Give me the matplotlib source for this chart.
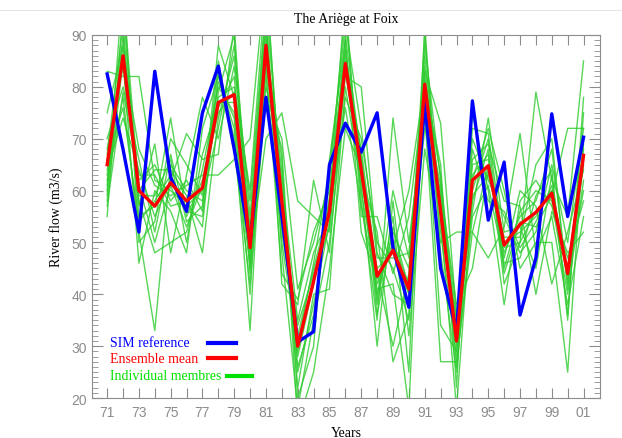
import matplotlib
matplotlib.use("Agg")
import matplotlib.pyplot as plt
from matplotlib.lines import Line2D
import numpy as np

years = np.arange(1971, 2002)

sim_reference = [82.5, 68, 52, 83, 62.5, 56, 75, 84, 68, 50, 78, 55, 30.8, 32.8, 65,
                 73, 67.4, 75, 49, 37.5, 77, 45, 33, 77.3, 54.3, 65.5, 36, 47, 74.8,
                 55, 70.3]

ensemble_mean = [65, 86, 60, 57, 61.5, 58, 60.5, 77, 78.5, 49, 88, 58, 30, 42.5, 56,
                 84.5, 64, 43.5, 48.5, 41, 80.5, 56, 31, 62, 64.8, 49.5, 53.5, 55.8,
                 59.5, 44, 66.8]

# one row per year, one column per ensemble member
members_by_year = [
    [83, 55, 62, 60, 67, 64, 58, 92, 70, 61, 66, 63, 59, 68, 57, 75],
    [82, 95, 78, 88, 92, 74, 85, 98, 80, 90, 76, 86, 100, 84, 79, 88],
    [82, 58, 52, 62, 55, 64, 46, 60, 66, 57, 54, 68, 50, 61, 63, 59],
    [62, 48, 33, 65, 57, 55, 60, 64, 52, 69, 58, 61, 54, 50, 63, 59],
    [60, 50, 65, 58, 74, 62, 56, 64, 67, 48, 63, 59, 70, 61, 57, 66],
    [57, 52, 60, 62, 55, 71, 48, 59, 54, 63, 56, 61, 65, 53, 58, 50],
    [60, 64, 58, 56, 62, 66, 72, 48, 57, 78, 55, 63, 59, 61, 53, 67],
    [76, 80, 72, 85, 78, 67, 82, 74, 88, 70, 79, 63, 81, 75, 83, 77],
    [82, 75, 88, 68, 80, 92, 72, 86, 78, 84, 90, 66, 74, 79, 70, 77],
    [50, 45, 55, 42, 60, 48, 33, 52, 47, 58, 44, 70, 40, 53, 46, 51],
    [90, 86, 95, 78, 100, 84, 88, 92, 70, 96, 82, 102, 87, 93, 80, 85],
    [55, 62, 48, 70, 58, 44, 66, 52, 75, 60, 50, 56, 64, 42, 68, 58],
    [28, 35, 18, 41, 25, 39, 15, 32, 58, 22, 30, 34, 26, 38, 20, 29],
    [42, 48, 35, 50, 38, 52, 25, 45, 55, 40, 46, 44, 36, 62, 30, 43],
    [58, 55, 50, 62, 54, 60, 45, 57, 52, 41, 64, 56, 59, 48, 66, 53],
    [85, 90, 78, 95, 82, 88, 72, 98, 84, 80, 92, 76, 87, 83, 89, 86],
    [62, 66, 70, 58, 80, 60, 64, 55, 68, 61, 72, 57, 65, 63, 52, 67],
    [45, 40, 50, 35, 48, 42, 38, 55, 44, 30, 47, 41, 36, 52, 43, 39],
    [48, 52, 45, 74, 40, 50, 55, 44, 30, 58, 47, 42, 53, 27, 49, 60],
    [40, 45, 35, 50, 38, 42, 25, 55, 44, 32, 48, 18, 41, 36, 60, 47],
    [82, 78, 88, 75, 84, 72, 92, 80, 86, 68, 79, 83, 90, 76, 81, 74],
    [58, 52, 62, 27, 55, 60, 48, 65, 57, 50, 34, 73, 54, 61, 63, 59],
    [30, 28, 35, 27, 32, 38, 25, 22, 33, 52, 29, 36, 18, 31, 26, 34],
    [65, 60, 70, 52, 58, 45, 62, 75, 56, 52, 68, 63, 59, 66, 55, 72],
    [66, 70, 62, 47, 68, 64, 72, 60, 74, 65, 58, 67, 63, 69, 61, 71],
    [50, 45, 55, 53, 42, 48, 60, 38, 52, 47, 56, 44, 51, 58, 46, 49],
    [52, 56, 48, 71, 50, 55, 45, 58, 53, 60, 49, 54, 51, 57, 47, 50],
    [55, 60, 52, 48, 79, 58, 50, 62, 45, 57, 54, 53, 65, 40, 59, 56],
    [60, 58, 65, 55, 62, 68, 50, 57, 63, 42, 61, 59, 70, 56, 64, 60],
    [45, 40, 50, 38, 55, 42, 25, 47, 36, 52, 44, 72, 41, 48, 35, 43],
    [68, 62, 72, 55, 85, 65, 70, 58, 75, 64, 60, 72, 66, 52, 78, 69],
]

tick_labels = [f"{y % 100:02d}" if y % 2 == 1 else "" for y in years]

serif = ["Liberation Serif", "DejaVu Serif"]
gray = "#8c8c8c"

fig = plt.figure(figsize=(6.22, 4.39), dpi=100)
ax = fig.add_axes([0.148, 0.091, 0.817, 0.827])

members = np.array(members_by_year).T
for m in members:
    ax.plot(years, m, color="#2ecc2e", lw=1.0, alpha=0.8)
ax.plot(years, sim_reference, color="#0000ff", lw=2.4)
ax.plot(years, ensemble_mean, color="#ff0000", lw=2.4)

ax.set_xlim(1970.05, 2002.05)
ax.set_ylim(20, 90)
ax.set_xticks(years)
ax.set_xticklabels(tick_labels)
ax.set_yticks(np.arange(20, 91, 10))
ax.set_yticks(np.arange(20, 91, 1), minor=True)
ax.tick_params(axis="both", which="both", direction="in", top=True, right=True,
               colors=gray, labelcolor=gray, labelsize=10)
ax.tick_params(axis="x", which="major", length=7, pad=5)
ax.tick_params(axis="y", which="major", length=8)
ax.tick_params(axis="y", which="minor", length=4)
for lab in ax.get_xticklabels() + ax.get_yticklabels():
    lab.set_family("Liberation Sans")
for s in ax.spines.values():
    s.set_color(gray)

ax.set_title("The Ariège at Foix", family=serif, fontsize=10, pad=9)
ax.set_xlabel("Years", family=serif, fontsize=10, labelpad=5)
ax.set_ylabel("River flow (m3/s)", family=serif, fontsize=10, labelpad=6)

# hand-placed legend
ax.text(0.035, 0.154, "SIM reference", color="#0000ff", family=serif, fontsize=10,
        transform=ax.transAxes, va="center")
ax.text(0.035, 0.110, "Ensemble mean", color="#ff0000", family=serif, fontsize=10,
        transform=ax.transAxes, va="center")
ax.text(0.035, 0.061, "Individual membres", color="#00e000", family=serif, fontsize=10,
        transform=ax.transAxes, va="center")
ax.plot([0.228, 0.283], [0.152, 0.152], color="#0000ff", lw=3, transform=ax.transAxes)
ax.plot([0.228, 0.283], [0.110, 0.110], color="#ff0000", lw=3, transform=ax.transAxes)
ax.plot([0.266, 0.315], [0.061, 0.061], color="#00e000", lw=3, transform=ax.transAxes)

fig.add_artist(Line2D([0, 1], [1 - 11 / 439, 1 - 11 / 439], color="#e6e6e6", lw=0.8))

fig.savefig("out.png", dpi=100)
